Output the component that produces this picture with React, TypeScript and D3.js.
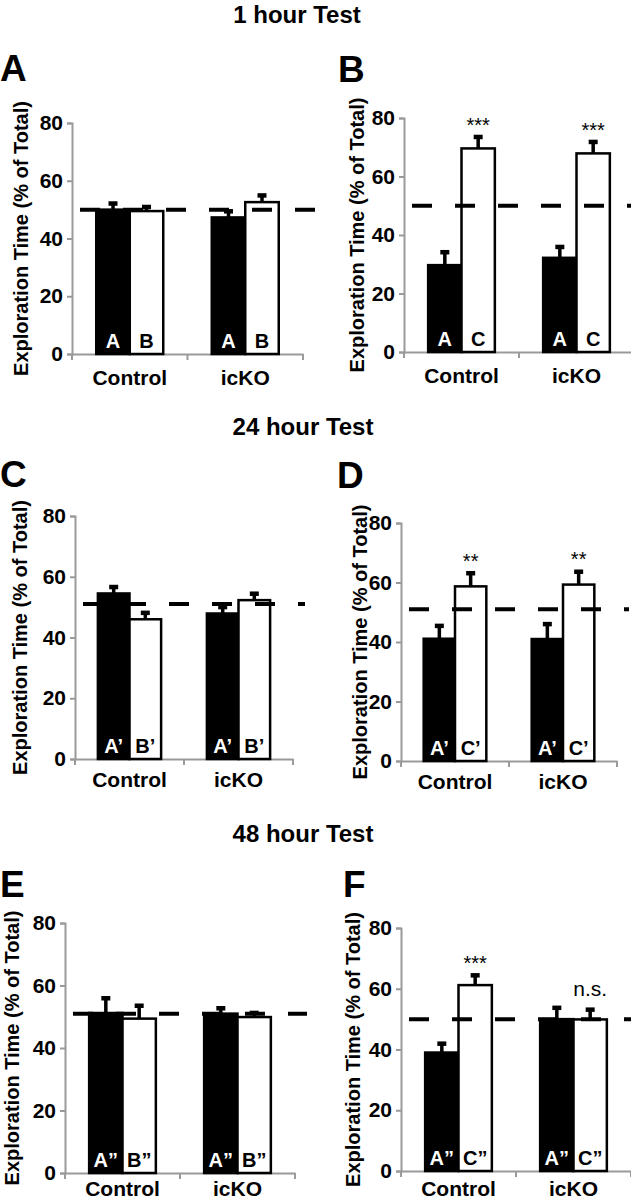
import React, { useEffect, useRef } from "react";
import * as d3 from "d3";

// data
const testTitles = ["1 hour Test", "24 hour Test", "48 hour Test"];
const groups = ["Control", "icKO"];
const yTicks = [0, 20, 40, 60, 80];
const panelLetters = ["A", "B", "C", "D", "E", "F"];
const objectNames = [
  ["A", "B"],
  ["A", "C"],
  ["A’", "B’"],
  ["A’", "C’"],
  ["A”", "B”"],
  ["A”", "C”"],
];
// [Control, icKO] per panel
const familiarMean = [[50, 47.3], [29.7, 32.2], [54.5, 47.9], [41.1, 41], [51.2, 51], [39, 50]];
const familiarSem = [[2.2, 2.2], [4.5, 3.8], [2.2, 2.2], [4.4, 5.1], [4.8, 1.8], [3, 3.8]];
const otherMean = [[49.5, 52.6], [69.6, 67.9], [46, 52.3], [58.7, 59.3], [49.4, 49.9], [61.2, 49.9]];
const otherSem = [[1.5, 2.4], [4, 4], [2.2, 2.2], [4.5, 4.4], [4.2, 1.4], [3.3, 3.3]];
const chanceLevel = [50, 50, 51, 51, 51, 50];
const sigMarks = [["", ""], ["***", "***"], ["", ""], ["**", "**"], ["", ""], ["***", "n.s."]];

// layout of each panel on the page
const frames = [
  { x0: 72, x1: 303, yTop: 123, yBot: 354, labelX: 21, letterX: 0, letterY: 81, catDy: 31 },
  { x0: 404, x1: 634, yTop: 118, yBot: 352, labelX: 357, letterX: 338, letterY: 82, catDy: 31 },
  { x0: 75, x1: 293, yTop: 516, yBot: 759, labelX: 20, letterX: 0, letterY: 487, catDy: 28 },
  { x0: 401, x1: 617, yTop: 523, yBot: 761, labelX: 360, letterX: 337, letterY: 488, catDy: 28 },
  { x0: 65, x1: 295, yTop: 923, yBot: 1173, labelX: 12, letterX: 0, letterY: 897, catDy: 23 },
  { x0: 401, x1: 631, yTop: 928, yBot: 1171, labelX: 353, letterX: 343, letterY: 897, catDy: 25 },
];
const titlePos = [
  { x: 297, y: 23 },
  { x: 303, y: 435 },
  { x: 303, y: 842 },
];

const W = 631;
const H = 1199;
const FONT = "'Liberation Sans', Arial, Helvetica, sans-serif";
const AXIS = "#9a9a9a";

export default function App() {
  const ref = useRef<SVGSVGElement>(null);

  useEffect(() => {
    const svg = d3.select(ref.current);
    svg.selectAll("*").remove();
    svg.attr("font-family", FONT);

    testTitles.forEach((t, i) => {
      svg.append("text")
        .attr("x", titlePos[i].x).attr("y", titlePos[i].y)
        .attr("text-anchor", "middle")
        .attr("font-size", 24).attr("font-weight", "bold")
        .text(t);
    });

    frames.forEach((f, p) => {
      const g = svg.append("g");
      const y = d3.scaleLinear().domain([0, 80]).range([f.yBot, f.yTop]);
      const x = d3.scaleBand<string>().domain(groups).range([f.x0, f.x1]);
      const inner = d3.scaleBand<string>()
        .domain(["fam", "other"])
        .range([0, x.bandwidth() * 0.58]);
      const off = (x.bandwidth() - inner.range()[1]) / 2;

      // panel letter
      g.append("text")
        .attr("x", f.letterX).attr("y", f.letterY)
        .attr("font-size", 37).attr("font-weight", "bold")
        .text(panelLetters[p]);

      // y axis label
      g.append("text")
        .attr("transform", `translate(${f.labelX},${(f.yTop + f.yBot) / 2}) rotate(-90)`)
        .attr("text-anchor", "middle")
        .attr("dominant-baseline", "central")
        .attr("font-size", 20).attr("font-weight", "bold")
        .text("Exploration Time (% of Total)");

      // y axis
      const ya = g.append("g")
        .attr("transform", `translate(${f.x0},0)`)
        .call(d3.axisLeft(y).tickValues(yTicks).tickSize(5).tickPadding(4));
      ya.select(".domain").attr("stroke", AXIS).attr("stroke-width", 2);
      ya.selectAll(".tick line").attr("stroke", AXIS).attr("stroke-width", 2);
      ya.selectAll(".tick text")
        .attr("fill", "#000").attr("font-size", 21).attr("font-weight", "bold")
        .attr("font-family", FONT);

      // x axis
      const xa = g.append("g")
        .attr("transform", `translate(0,${f.yBot})`)
        .call(d3.axisBottom(x).tickSize(0).tickFormat(() => ""));
      xa.select(".domain").attr("stroke", AXIS).attr("stroke-width", 2);
      [f.x0, ...groups.map((c) => (x(c) as number) + x.bandwidth())].forEach((tx) => {
        g.append("line")
          .attr("x1", tx).attr("x2", tx)
          .attr("y1", f.yBot).attr("y2", f.yBot + 6)
          .attr("stroke", AXIS).attr("stroke-width", 2);
      });
      groups.forEach((c) => {
        g.append("text")
          .attr("x", (x(c) as number) + x.bandwidth() / 2)
          .attr("y", f.yBot + f.catDy)
          .attr("text-anchor", "middle")
          .attr("font-size", 21).attr("font-weight", "bold")
          .text(c);
      });

      // bars
      groups.forEach((c, gi) => {
        const bars = [
          { key: "fam", m: familiarMean[p][gi], e: familiarSem[p][gi], fill: "#000", txt: "#fff", name: objectNames[p][0] },
          { key: "other", m: otherMean[p][gi], e: otherSem[p][gi], fill: "#fff", txt: "#000", name: objectNames[p][1] },
        ];
        bars.forEach((b, bi) => {
          const bx = (x(c) as number) + off + (inner(b.key) as number);
          const bw = inner.bandwidth();
          const cx = bx + bw / 2;
          g.append("rect")
            .attr("x", bx).attr("y", y(b.m))
            .attr("width", bw).attr("height", f.yBot - y(b.m))
            .attr("fill", b.fill).attr("stroke", "#000").attr("stroke-width", 2.5);
          // error bar (upper only)
          const yt = y(b.m + b.e);
          g.append("rect")
            .attr("x", cx - 1.75).attr("y", yt)
            .attr("width", 3.5).attr("height", y(b.m) - yt)
            .attr("fill", "#000");
          g.append("rect")
            .attr("x", cx - 4.5).attr("y", yt - 2)
            .attr("width", 9).attr("height", 4.5)
            .attr("fill", "#000");
          g.append("text")
            .attr("x", cx).attr("y", f.yBot - 6)
            .attr("text-anchor", "middle")
            .attr("font-size", 20).attr("font-weight", "bold")
            .attr("fill", b.txt)
            .text(b.name);
          if (bi === 1 && sigMarks[p][gi]) {
            const mk = sigMarks[p][gi];
            g.append("text")
              .attr("x", cx).attr("y", yt - (mk === "n.s." ? 13 : 5))
              .attr("text-anchor", "middle")
              .attr("font-size", mk === "n.s." ? 21 : 20)
              .text(mk);
          }
        });
      });

      // chance line
      g.append("line")
        .attr("x1", f.x0 + 8).attr("x2", f.x1 + 12)
        .attr("y1", y(chanceLevel[p])).attr("y2", y(chanceLevel[p]))
        .attr("stroke", "#000").attr("stroke-width", 4)
        .attr("stroke-dasharray", "20 23");
    });
  }, []);

  return (
    <svg
      ref={ref}
      width={W}
      height={H}
      style={{ position: "absolute", left: 0, top: 0, background: "#fff" }}
    />
  );
}
